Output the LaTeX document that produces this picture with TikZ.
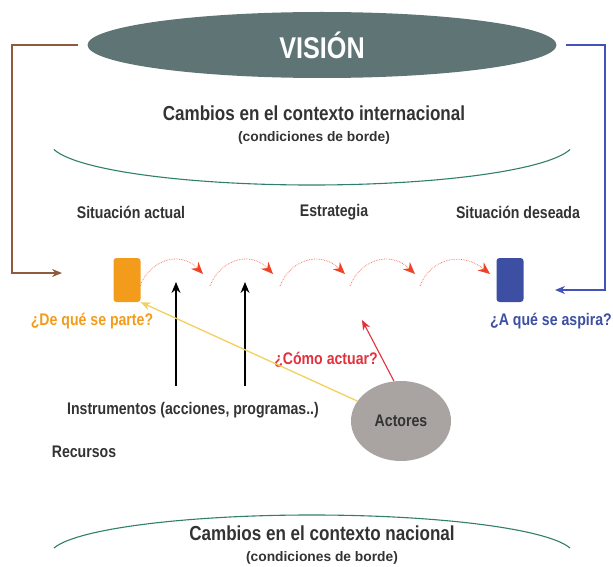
\documentclass[tikz,border=0pt]{standalone}
\usepackage{fontspec}
\setmainfont{Liberation Sans}[FakeStretch=0.84]
\newfontfamily\plainsans{Liberation Sans}
\usetikzlibrary{arrows.meta,positioning,shapes.geometric}
\definecolor{VisionSlate}{HTML}{5F7474}
\definecolor{HorizonTeal}{HTML}{2F7F6C}
\definecolor{LinkBrown}{HTML}{8E5B3E}
\definecolor{LinkBlue}{HTML}{4252B8}
\definecolor{StartOrange}{HTML}{F39C1C}
\definecolor{GoalBlue}{HTML}{3C4FA3}
\definecolor{HopRed}{HTML}{EE4224}
\definecolor{ActorYellow}{HTML}{F3D05E}
\definecolor{ActorGray}{HTML}{A9A4A1}
\definecolor{AskRed}{HTML}{E2313C}
\definecolor{TextGray}{HTML}{333333}

\begin{document}
\begin{tikzpicture}[x=1pt,y=-1pt,
  node distance=9pt,
  every node/.style={font=\bfseries\fontsize{16.8}{18}\selectfont, text=TextGray, inner sep=1pt},
  title/.style={font=\bfseries\fontsize{20.3}{22}\selectfont},
  sub/.style={font=\plainsans\bfseries\fontsize{13.8}{15}\selectfont},
  stage/.style={draw=none, rounded corners=3pt, minimum width=27pt, minimum height=44pt},
  horizon/.style={draw=HorizonTeal, line width=1.1pt},
  hop/.style={draw=HopRed!80, densely dotted, line width=0.7pt,
              -{Stealth[length=12pt,width=10pt,color=HopRed]}},
  link/.style={line width=1.2pt, -{Stealth[length=10pt,width=8pt]}},
  push/.style={draw=black, line width=1.3pt, -{Stealth[length=11pt,width=9pt]}},
]
\useasboundingbox (0,0) rectangle (613,567);

% vision and contexts
\node[ellipse, fill=VisionSlate, minimum width=469pt, minimum height=66pt, inner sep=0pt,
      font=\bfseries\fontsize{30}{32}\selectfont, text=white] (vision) at (322,45) {VISIÓN};
\node[title] (intl) at (314,113) {Cambios en el contexto internacional};
\node[sub, below=of intl] (intlsub) {(condiciones de borde)};
\draw[horizon] ([shift={(170:262 and 43)}]312,142) arc[start angle=170, end angle=10, x radius=262, y radius=43];

\node[title] (nac) at (322,533) {Cambios en el contexto nacional};
\node[sub, below=of nac] (nacsub) {(condiciones de borde)};
\draw[horizon] ([shift={(190:262 and 40)}]312,555) arc[start angle=190, end angle=350, x radius=262, y radius=40];

% stages
\node (actuallbl) at (131,212) {Situación actual};
\node (estrat) at (334,212) {Estrategia};
\node (deseadalbl) at (518,212) {Situación deseada};
\node[stage, fill=StartOrange] (actual) at (127,280) {};
\node[stage, fill=GoalBlue] (deseada) at (510,280) {};
\node[text=StartOrange] (parte) at (92,321) {¿De qué se parte?};
\node[text=GoalBlue] (aspira) at (551,321) {¿A qué se aspira?};

% strategy hops
\foreach \x/\w in {140/63, 210/63, 280/65, 350/65, 420/70}
  {\draw[hop] (\x,286) .. controls (\x+10,260) and (\x+40,250) .. (\x+\w,274);}

% feedback from the vision
\coordinate (bfrom) at (78,45);
\coordinate (bto) at (62,273);
\coordinate (gfrom) at (566,45);
\coordinate (gto) at (555,290);
\draw[link, LinkBrown] (bfrom) -- ++(-66,0) |- (bto);
\draw[link, LinkBlue] (gfrom) -- ++(39,0) |- (gto);

% means and actors
\node (instr) at (193,410) {Instrumentos (acciones, programas..)};
\node (recursos) at (84,452) {Recursos};
\node[ellipse, fill=ActorGray, minimum width=100pt, minimum height=80pt] (actores) at (401,421) {Actores};
\node[text=AskRed] (como) at (326,360) {¿Cómo actuar?};
\coordinate (pusha) at (176,386);
\coordinate (pushb) at (245,386);
\coordinate (comotip) at (362,320);
\draw[push] (pusha) -- ++(0,-104);
\draw[push] (pushb) -- ++(0,-104);
\draw[link, ActorYellow, line width=1.3pt] (actores) -- (actual.south east);
\draw[link, AskRed, line width=1.1pt] (actores.100) -- (comotip);
\end{tikzpicture}
\end{document}
